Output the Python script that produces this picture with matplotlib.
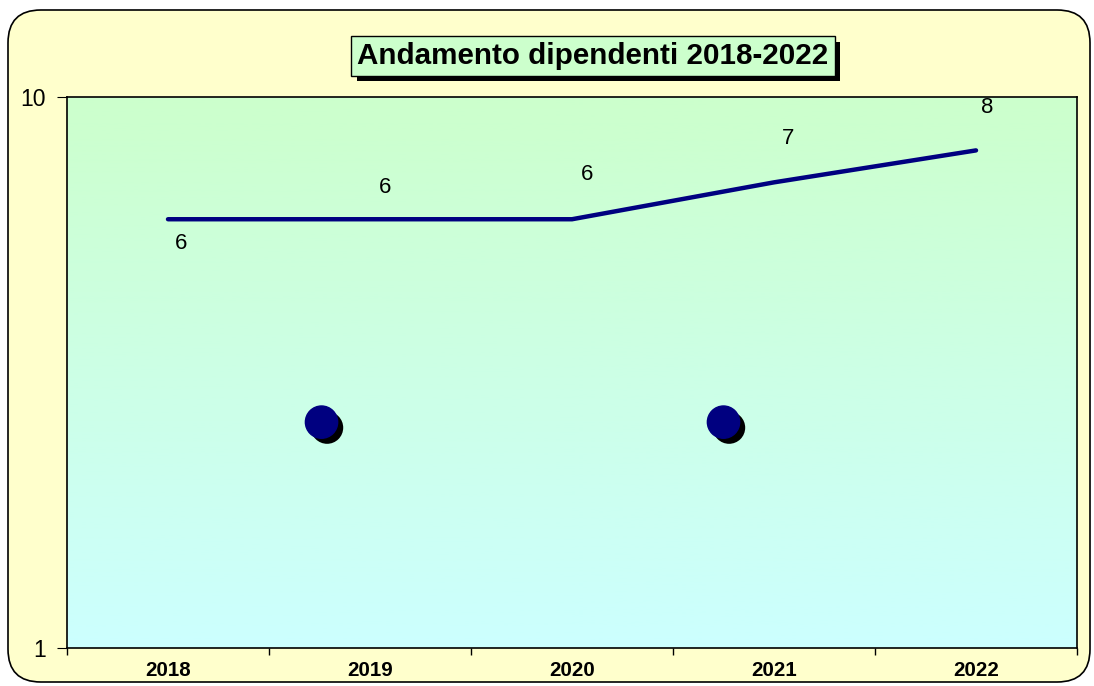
import matplotlib
matplotlib.use("Agg")
import matplotlib.pyplot as plt
import numpy as np
from matplotlib.patches import FancyBboxPatch
import matplotlib.patheffects as pe

plt.rcParams["font.family"] = ["Liberation Sans", "DejaVu Sans"]

years = ["2018", "2019", "2020", "2021", "2022"]
dipendenti = [6, 6, 6, 7, 8]
label_offsets = [(13, -24), (15, 32), (15, 45), (14, 44), (11, 43)]
pin_x = [0.76, 2.75]
pin_y = [2.57, 2.57]

fig = plt.figure(figsize=(10.94, 6.86), dpi=100)
fig.patch.set_facecolor("white")

# rounded yellow frame behind everything
frame = FancyBboxPatch((8 / 1094, 4 / 686), 1082 / 1094, 672 / 686,
                       boxstyle="round,pad=0,rounding_size=0.03",
                       transform=fig.transFigure, facecolor="#FFFFCC",
                       edgecolor="black", linewidth=1.2, zorder=-10,
                       mutation_aspect=1094 / 686)
fig.patches.append(frame)

ax = fig.add_axes([67 / 1094, 1 - 648 / 686, 1010 / 1094, 551 / 686])
ax.set_facecolor("none")

# vertical gradient in plot area
grad = np.linspace(0, 1, 256).reshape(-1, 1)
top = np.array([0xCC, 0xFF, 0xCC]) / 255
bot = np.array([0xCC, 0xFF, 0xFF]) / 255
img = top[None, None, :] * (1 - grad[:, :, None]) + bot[None, None, :] * grad[:, :, None]
ax.imshow(img, extent=[0, 1, 0, 1], transform=ax.transAxes, aspect="auto", zorder=0)

x = np.arange(len(years))
ax.plot(x, dipendenti, color="#000080", linewidth=3.2, solid_capstyle="round", zorder=3)

for xi, v, (dx, dy) in zip(x, dipendenti, label_offsets):
    ax.annotate(f"{v}", (xi, v), xytext=(dx * 0.72, dy * 0.72), textcoords="offset points",
                ha="center", va="center", fontsize=16, color="black", zorder=4)

# pushpin markers with shadow
ax.scatter(pin_x, pin_y, s=540, color="#000080", zorder=5,
           path_effects=[pe.SimplePatchShadow(offset=(4, -4), shadow_rgbFace="black", alpha=1.0), pe.Normal()])

ax.set_yscale("log")
ax.set_ylim(1, 10)
ax.set_xlim(-0.5, 4.5)
ax.set_yticks([1, 10])
ax.set_yticklabels(["1", "10"])
ax.yaxis.set_minor_locator(matplotlib.ticker.NullLocator())
ax.set_xticks(np.arange(-0.5, 5.0, 1.0))
ax.set_xticklabels([])
ax.set_xticks(x, minor=True)
ax.set_xticklabels(years, minor=True, fontweight="bold", fontsize=14.8)
ax.tick_params(axis="x", which="minor", length=0, pad=9)
ax.tick_params(axis="x", which="major", length=5, direction="out", width=1)
ax.tick_params(axis="y", which="major", length=7, direction="out", labelsize=16.5, pad=8)
for s in ax.spines.values():
    s.set_linewidth(1.2)
    s.set_color("black")
    s.set_zorder(6)

t = fig.text(593 / 1094, 1 - 56 / 686, "Andamento dipendenti 2018-2022",
             ha="center", va="center", fontsize=21.3, fontweight="bold",
             bbox=dict(boxstyle="square,pad=0.2", facecolor="#CCFFCC", edgecolor="black", linewidth=1))
t.get_bbox_patch().set_path_effects([pe.SimplePatchShadow(offset=(4, -4), shadow_rgbFace="black", alpha=1.0), pe.Normal()])

fig.savefig("out.png", dpi=100)
